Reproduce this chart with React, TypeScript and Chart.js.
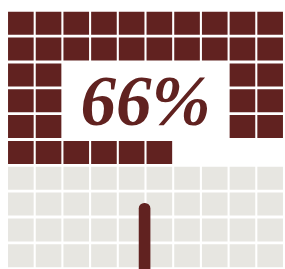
import React, { useEffect, useRef } from "react";
import { Chart, registerables } from "chart.js";

Chart.register(...registerables);

// ---- data ----
const columns = ["1", "2", "3", "4", "5", "6", "7", "8", "9", "10"];
// f = filled share, e = empty share, null = cell left blank behind the label
const row1 = ["f", "f", "f", "f", "f", "f", "f", "f", "f", "f"];
const row2 = ["f", "f", "f", "f", "f", "f", "f", "f", "f", "f"];
const row3 = ["f", "f", null, null, null, null, null, null, "f", "f"];
const row4 = ["f", "f", null, null, null, null, null, null, "f", "f"];
const row5 = ["f", "f", null, null, null, null, null, null, "f", "f"];
const row6 = ["f", "f", "f", "f", "f", "f", null, null, null, null];
const row7 = ["e", "e", "e", "e", "e", "e", "e", "e", "e", "e"];
const row8 = ["e", "e", "e", "e", "e", "e", "e", "e", "e", "e"];
const row9 = ["e", "e", "e", "e", "e", "e", "e", "e", "e", "e"];
const row10 = ["e", "e", "e", "e", "e", "e", "e", "e", "e", "e"];
const gridRows = [row1, row2, row3, row4, row5, row6, row7, row8, row9, row10];
const percentValue = 66;
const percentLabel = `${percentValue}%`;
// marker (needle) position on a 0–10 horizontal scale and its height in rows
const markerX = [4.96];
const markerHeight = [2.53];

const DARK = "#612220";
const LIGHT = "#e7e6e1";
const GAP = 0.11;

export default function App() {
  const ref = useRef<HTMLCanvasElement | null>(null);

  useEffect(() => {
    if (!ref.current) return;
    const nRows = gridRows.length;
    const rowDatasets = gridRows.map((row, i) => ({
      type: "bar" as const,
      xAxisID: "x",
      grouped: false,
      data: row.map((c) =>
        c === null ? null : [nRows - i - 1 + GAP / 2, nRows - i - GAP / 2]
      ),
      backgroundColor: row.map((c) => (c === "f" ? DARK : LIGHT)),
      borderWidth: 0,
      barPercentage: 0.925,
      categoryPercentage: 1,
    }));

    const needle = {
      type: "bar" as const,
      xAxisID: "xn",
      grouped: false,
      data: markerX.map((x, i) => ({ x, y: markerHeight[i] })),
      backgroundColor: DARK,
      borderWidth: 0,
      barThickness: 11,
      borderRadius: 5.5,
      borderSkipped: "start",
      clip: false as any,
    };

    const labelPlugin = {
      id: "centerLabel",
      afterDatasetsDraw(chart: any) {
        const { ctx, scales } = chart;
        const x = scales.x;
        const y = scales.y;
        const cx = (x.getPixelForValue(4) + x.getPixelForValue(5)) / 2;
        const by = y.getPixelForValue(5.57);
        ctx.save();
        ctx.font = 'italic bold 71px "Liberation Serif"';
        ctx.fillStyle = DARK;
        ctx.textAlign = "center";
        ctx.textBaseline = "alphabetic";
        ctx.fillText(percentLabel, cx, by);
        ctx.restore();
      },
    };

    const chart = new Chart(ref.current, {
      type: "bar",
      data: {
        labels: columns,
        datasets: [needle as any, ...rowDatasets],
      },
      options: {
        animation: false,
        responsive: false,
        layout: { padding: { left: 7, right: 1, top: 10.3, bottom: 0.3 } },
        plugins: { legend: { display: false }, tooltip: { enabled: false } },
        scales: {
          x: { type: "category", display: false, offset: true, grid: { display: false } },
          xn: { type: "linear", display: false, min: 0, max: 10 },
          y: { type: "linear", display: false, min: 0, max: 10 },
        },
      },
      plugins: [labelPlugin],
    });
    return () => chart.destroy();
  }, []);

  return (
    <div style={{ position: "absolute", left: 0, top: 0, width: 285, height: 269, background: "#fff" }}>
      <canvas ref={ref} width={285} height={269} style={{ display: "block" }} />
    </div>
  );
}
